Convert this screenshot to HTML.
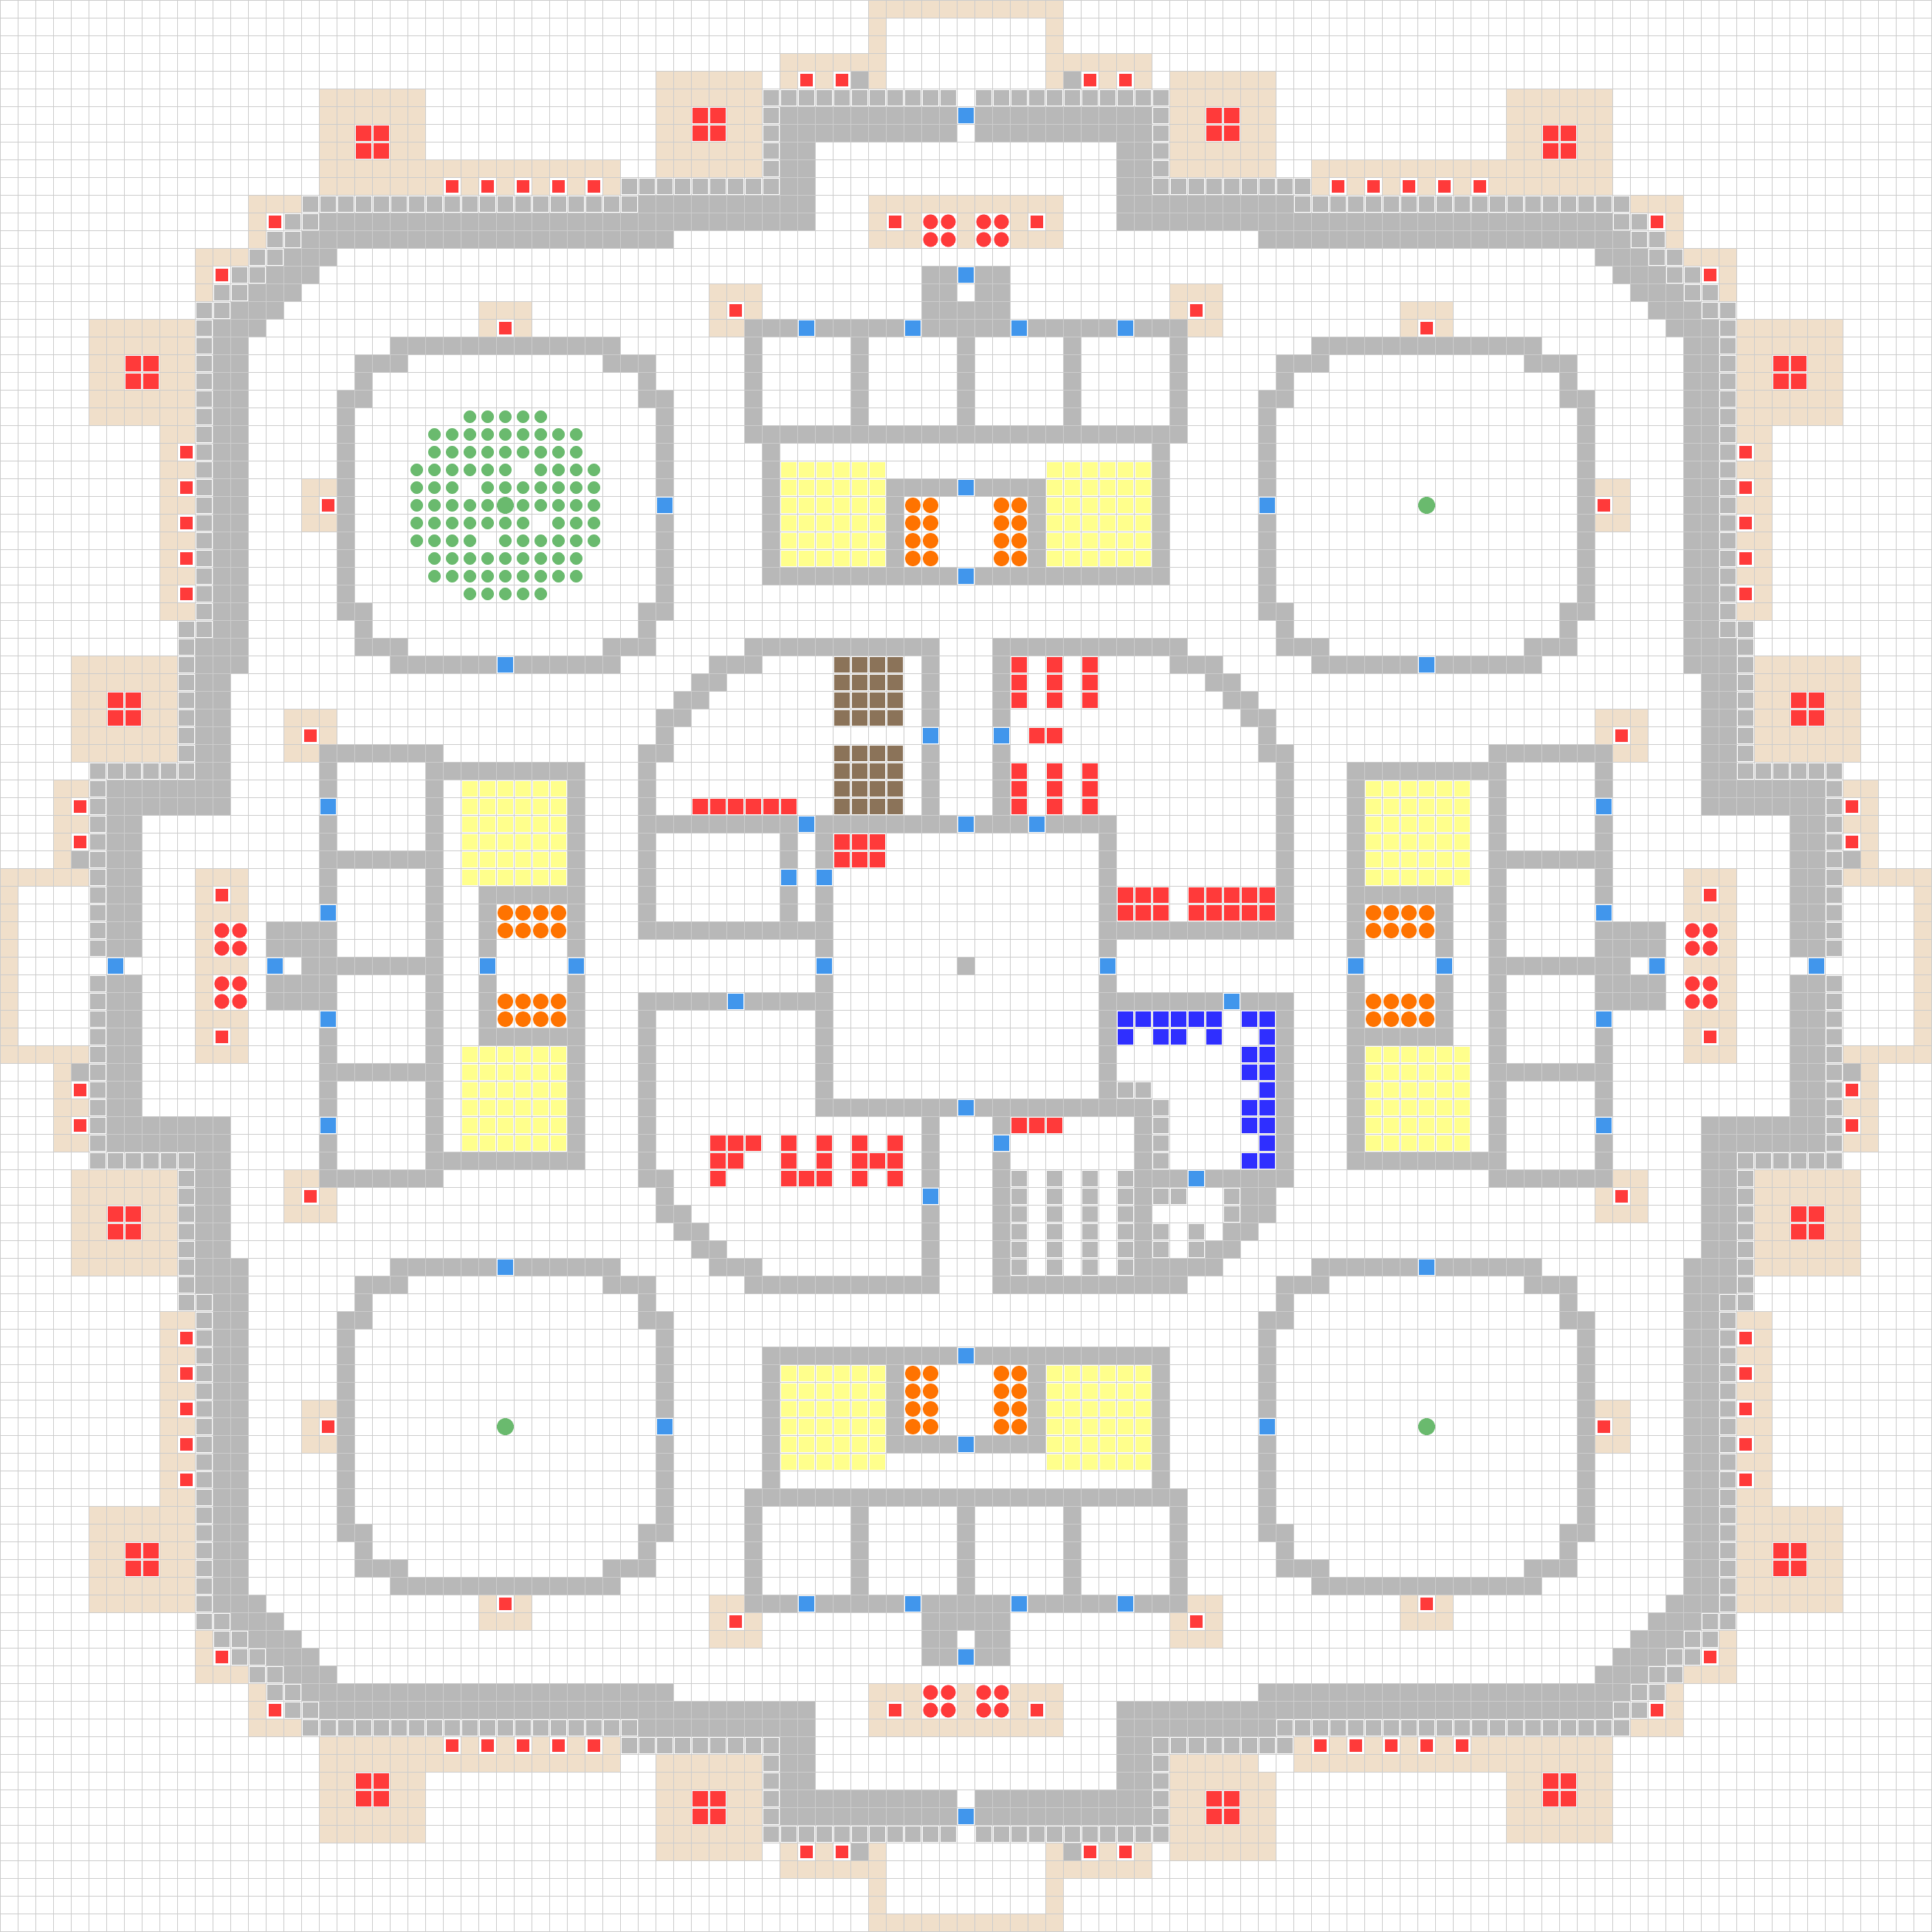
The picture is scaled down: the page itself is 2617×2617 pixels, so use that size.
<!DOCTYPE html>
<html><head><meta charset="utf-8"><style>
html,body{margin:0;padding:0;background:#fff;}
#w{width:2617px;height:2617px;overflow:hidden;}
</style></head><body><div id="w"></div>
<script>
const S=24,N=109,M=new Map();
function set(r,c,t){M.set(r*N+c,t);}
function del(r,c){M.delete(r*N+c);}
function put(r,c,t){
  const pts=[[r,c],[c,r]];
  for(const [a,b] of pts){for(const rr of [a,108-a])for(const cc of [b,108-b])set(rr,cc,t);}
}
function each(cs,f){for(const x of cs){if(typeof x==='string'){const [a,b]=x.split('-').map(Number);for(let c=a;c<=b;c++)f(c);}else f(x);}}
function P(r,t,...cs){each(cs,c=>put(r,c,t));}
function C(r,t,...cs){each(cs,c=>set(r,c,t));}
function PR(r1,r2,t,...cs){for(let r=r1;r<=r2;r++)P(r,t,...cs);}
function CR(r1,r2,t,...cs){for(let r=r1;r<=r2;r++)C(r,t,...cs);}

// ===== symmetric outer structure (top band, cols <=54) =====
P(0,'T','49-54');
P(1,'T',49);P(2,'T',49);
P(3,'T','44-49');
P(4,'T','37-42',44,46,49);P(4,'R',45,47);P(4,'G',48);
P(5,'T','18-23','37-42');P(5,'I','43-53');
P(6,'T','18-23',37,38,41,42);P(6,'Q',39,40);P(6,'I',43);P(6,'G','44-53');P(6,'B',54);
P(7,'T',18,19,22,23,37,38,41,42);P(7,'Q',20,21,39,40);P(7,'I',43);P(7,'G','44-53');
P(8,'T',18,19,22,23,'37-42');P(8,'Q',20,21);P(8,'I',43);P(8,'G',44,45);
P(9,'T','18-34','37-42');P(9,'I',43);P(9,'G',44,45);
P(10,'T','18-34');P(10,'R',25,27,29,31,33);P(10,'I','35-43');P(10,'G',44,45);
P(11,'T',14,15,16,'49-54');P(11,'I','17-35');P(11,'G','36-45');
P(12,'T',14,49,51,54);P(12,'R',15,50);P(12,'I',16,17);P(12,'G','18-45');P(12,'C',52,53);
P(13,'T',14,'49-51',54);P(13,'I',15,16);P(13,'G','17-37');P(13,'C',52,53);
P(14,'T',11,12,13);P(14,'I',14,15);P(14,'G',16,17,18);
P(15,'T',11);P(15,'R',12);P(15,'I',13,14);P(15,'G',15,16,17,52,53);P(15,'B',54);
P(16,'T',11,'40-42');P(16,'I',12,13);P(16,'G',14,15,16,52,53);
P(17,'I',11,12);P(17,'G',13,14,15,52,53,54);P(17,'T','27-29',40,42);P(17,'R',41);
P(18,'T',27,29,40,41);P(18,'R',28);
// top complex
P(18,'G','42-54');P(18,'B',45,51);
PR(19,23,'G',42,48,54);
P(24,'G','42-54');
P(25,'G',43);
P(26,'G',43);P(26,'Y','44-49');
P(27,'G',43,'50-53');P(27,'Y','44-49');P(27,'B',54);
PR(28,31,'G',43,50);PR(28,31,'Y','44-49');PR(28,31,'O',51,52);
P(32,'G','43-53');P(32,'B',54);
// corner room
P(19,'G','22-34');
P(20,'G',20,21,22,34,35,36);
P(21,'G',20,36);
P(22,'G',19,20,36,37);
PR(23,33,'G',19,37);
P(28,'B',37);
P(34,'G',19,20,36,37);
P(35,'G',20,36);
P(36,'G',20,21,22,34,35,36);
P(37,'G','22-34');P(37,'B',28);
P(28,'L',28);

// bottom-right band asymmetry overrides
for(let c=71;c<=90;c++){del(97,c);del(98,c);del(99,c);}
C(97,'G',71);C(97,'I','72-90');
C(98,'I',71,72);C(98,'T','73-90');C(98,'R',74,76,78,80,82);
C(99,'T','73-90');

// green dots in top-left room
C(23,'g','26-30');C(24,'g','24-32');C(25,'g','24-32');
C(26,'g','23-28','30-33');C(27,'g','23-25','27-33');
C(28,'g','23-27','29-33');
C(29,'g','23-29','31-33');C(30,'g','23-26','28-33');
C(31,'g','24-32');C(32,'g','24-32');C(33,'g','26-30');

// ===== center =====
C(36,'G','42-52','56-66');
C(37,'G',40,41,42,52,56,66,67,68);C(37,'N','47-50');C(37,'Q',57,59,61);
C(38,'G',39,40,52,56,68,69);C(38,'N','47-50');C(38,'Q',57,59,61);
C(39,'G',38,39,52,56,69,70);C(39,'N','47-50');C(39,'Q',57,59,61);
C(40,'G',37,38,52,56,70,71);C(40,'N','47-50');
C(41,'G',37,71);C(41,'B',52,56);C(41,'Q',58,59);
C(42,'G',36,37,52,56,71,72);C(42,'N','47-50');
C(43,'G',36,52,56,72);C(43,'N','47-50');C(43,'Q',57,59,61);
C(44,'G',36,52,56,72);C(44,'N','47-50');C(44,'Q',57,59,61);
C(45,'G',36,52,56,72);C(45,'N','47-50');C(45,'Q','39-44',57,59,61);
C(46,'G','36-44','46-53','55-57','59-62',72);C(46,'B',45,54,58);
CR(47,48,'G',36,44,46,62,72);CR(47,48,'Q',47,48,49);
C(49,'G',36,62,72);C(49,'B',44,46);
CR(50,51,'G',36,44,46,62,72);CR(50,51,'Q',63,64,65,'67-71');
C(52,'G','36-46','62-72');
C(53,'G',46,62);
C(54,'B',46,62);C(54,'G',54);
C(55,'G',46,62);
C(56,'G','36-40','42-46','62-68',70,71,72);C(56,'B',41,69);
CR(57,61,'G',36,46,62,72);
C(57,'D','63-68',70,71);
C(58,'D',63,65,66,68,71);
C(59,'D',70,71);C(60,'D',70,71);C(61,'D',71);C(61,'I',63,64);
C(62,'G',36,'46-53','55-64',72);C(62,'B',54);C(62,'I',65);C(62,'D',70,71);
C(63,'G',36,52,56,64,72);C(63,'Q',57,58,59);C(63,'I',65);C(63,'D',70,71);
C(64,'G',36,52,64,72);C(64,'B',56);C(64,'I',65);C(64,'D',71);C(64,'Q',40,41,42,44,46,48,50);
C(65,'G',36,52,56,64,72);C(65,'I',65);C(65,'D',70,71);C(65,'Q',40,41,44,46,48,49,50);
C(66,'G',36,37,52,56,64,65,66,'68-72');C(66,'B',67);C(66,'I',57,59,61,63);C(66,'Q',40,44,45,46,48,50);
C(67,'G',37,56,64,70,71);C(67,'B',52);C(67,'I',57,59,61,63,65,66,69);
C(68,'G',37,38,52,56,64,70,71);C(68,'I',57,59,61,63,69);
C(69,'G',38,39,52,56,64,69,70);C(69,'I',57,59,61,63,65,67);
C(70,'G',39,40,52,56,64,68,69);C(70,'I',57,59,61,63,65,67);
C(71,'G',40,41,42,52,56,'64-68');C(71,'I',57,59,61,63);
C(72,'G','42-52','56-66');

// ===== render =====
const col={T:'#f0dfca',G:'#b8b8b8',I:'#b8b8b8',B:'#4196ec',R:'#ff3a3a',Q:'#ff3a3a',Y:'#ffff8c',N:'#8b7359',D:'#2f2fff',O:'#ff7300',g:'#6aba6e',L:'#6aba6e',C:'#ff3a3a'};
let bg='',fg='';
for(const [k,t] of M){
  const r=Math.floor(k/N),c=k%N,x=c*S,y=r*S;
  if(t==='T'||t==='G'){bg+=`<rect x="${x}" y="${y}" width="24" height="24" fill="${col[t]}"/>`;continue;}
  fg+=`<rect x="${x+1}" y="${y+1}" width="23" height="23" fill="#fff"/>`;
  if(t==='R'){fg+=`<rect x="${x+4}" y="${y+4}" width="17" height="17" fill="${col[t]}"/>`;}
  else if(t==='O'){fg+=`<circle cx="${x+12.5}" cy="${y+12.5}" r="10.5" fill="${col[t]}"/>`;}
  else if(t==='C'){fg+=`<circle cx="${x+12.5}" cy="${y+12.5}" r="10" fill="${col[t]}"/>`;}
  else if(t==='g'){fg+=`<circle cx="${x+12.5}" cy="${y+12.5}" r="8.5" fill="${col[t]}"/>`;}
  else if(t==='L'){fg+=`<circle cx="${x+12.5}" cy="${y+12.5}" r="11.5" fill="${col[t]}"/>`;}
  else {fg+=`<rect x="${x+2}" y="${y+2}" width="21" height="21" fill="${col[t]}"/>`;}
}
let g='';
for(let i=0;i<=N;i++){const p=i*S+0.5;g+=`M${p} 0V2617M0 ${p}H2617`;}
document.getElementById('w').innerHTML=`<svg xmlns="http://www.w3.org/2000/svg" width="2617" height="2617" viewBox="0 0 2617 2617" shape-rendering="crispEdges"><rect width="2617" height="2617" fill="#fff"/>${bg}<path d="${g}" stroke="#cccccc" stroke-width="1" fill="none"/>${fg}</svg>`;
</script></body></html>
